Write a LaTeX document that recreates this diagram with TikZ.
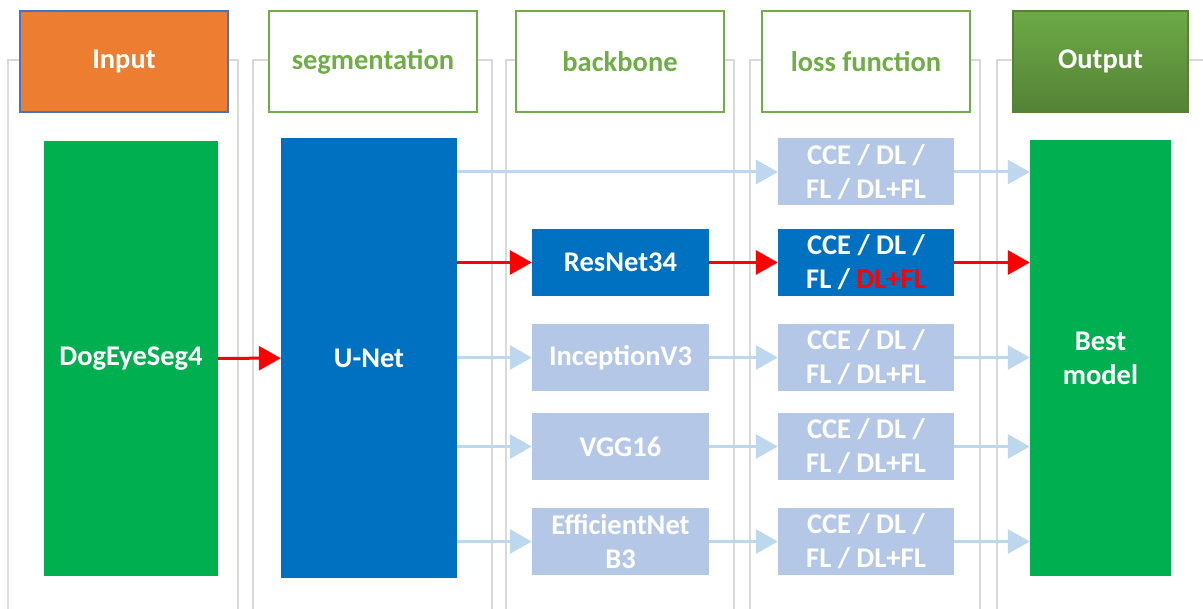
\documentclass[tikz,border=0pt]{standalone}
\usepackage{fontspec}
\setmainfont{Carlito}
\usetikzlibrary{arrows.meta}
\definecolor{frameg}{HTML}{D9D9D9}
\definecolor{orng}{HTML}{ED7D31}
\definecolor{bordblue}{HTML}{4472C4}
\definecolor{hdgreen}{HTML}{70AD47}
\definecolor{outgA}{HTML}{6DAA47}
\definecolor{outgB}{HTML}{548235}
\definecolor{boxgreen}{HTML}{00B050}
\definecolor{boxblue}{HTML}{0070C0}
\definecolor{paleblue}{HTML}{B4C7E7}
\definecolor{arrblue}{HTML}{BDD7EE}
\tikzset{frame/.style={draw=frameg,line width=2.5pt},
head/.style={rectangle, minimum width=208pt, minimum height=101pt, inner sep=0pt, text centered, line width=1.5pt, font=\bfseries\fontsize{28.5}{32}\selectfont},
greenhead/.style={head, draw=hdgreen, fill=white, text=hdgreen},
box/.style={rectangle, inner sep=0pt, align=center, text=white, font=\bfseries\fontsize{28.5}{34}\selectfont},
smallbox/.style={box, minimum width=177pt, minimum height=67pt},
dark/.style={fill=boxblue},
pale/.style={fill=paleblue},
redarr/.style={-{Triangle[length=22pt,width=24pt]},line width=3pt,draw=red},
bluearr/.style={-{Triangle[length=22pt,width=24pt]},line width=3pt,draw=arrblue}}

\begin{document}
\begin{tikzpicture}[x=1pt, y=-1pt]
\useasboundingbox (0,0) rectangle (1203,609);

% column frames
\draw[frame] (8,615) |- (238,60) -- (238,615);
\draw[frame] (253,615) |- (492,60) -- (492,615);
\draw[frame] (506,615) |- (734,60) -- (734,615);
\draw[frame] (750,615) |- (980,60) -- (980,615);
\draw[frame] (997,615) |- (1212,60) -- (1212,615);

% headers
\node(input) at (124, 61.5) [head, fill=orng, draw=bordblue, text=white] {Input};
\node(seg) at (373, 61.5) [greenhead] {segmentation};
\node(bb) at (620, 61.5) [greenhead] {backbone};
\node(loss) at (866, 61.5) [greenhead] {loss function};
\node(output) at (1100.5, 61.5) [head, minimum width=175pt, top color=outgA, bottom color=outgB, draw=outgB, text=white] {Output};

% boxes
\node(dog) at (131, 358.5) [box, fill=boxgreen, minimum width=174pt, minimum height=435pt] {DogEyeSeg4};
\node(unet) at (369, 358) [box, dark, minimum width=176pt, minimum height=440pt] {U-Net};
\node(resnet) at (620.5, 262.5) [smallbox, dark] {ResNet34};
\node(incep) at (620.5, 357.5) [smallbox, pale] {InceptionV3};
\node(vgg) at (620.5, 446.5) [smallbox, pale] {VGG16};
\node(effnet) at (620.5, 541.5) [smallbox, pale] {EfficientNet\\B3};
\node(lossA) at (866, 172) [smallbox, pale, minimum width=176pt] {CCE / DL /\\FL / DL+FL};
\node(lossB) at (866, 262.5) [smallbox, dark, minimum width=176pt] {CCE / DL /\\FL / \textcolor{red}{DL+FL}};
\node(lossC) at (866, 357.5) [smallbox, pale, minimum width=176pt] {CCE / DL /\\FL / DL+FL};
\node(lossD) at (866, 446.5) [smallbox, pale, minimum width=176pt] {CCE / DL /\\FL / DL+FL};
\node(lossE) at (866, 541.5) [smallbox, pale, minimum width=176pt] {CCE / DL /\\FL / DL+FL};
\node(best) at (1100.5, 358) [box, fill=boxgreen, minimum width=141pt, minimum height=436pt] {Best\\model};

% connectors
\draw (dog) edge[redarr] (unet);
\draw (unet.east |- lossA.west) edge[bluearr] (lossA.west);
\draw (unet.east |- resnet.west) edge[redarr] (resnet.west);
\draw (unet.east |- incep.west) edge[bluearr] (incep.west);
\draw (unet.east |- vgg.west) edge[bluearr] (vgg.west);
\draw (unet.east |- effnet.west) edge[bluearr] (effnet.west);
\draw (resnet) edge[redarr] (lossB);
\draw (incep) edge[bluearr] (lossC);
\draw (vgg) edge[bluearr] (lossD);
\draw (effnet) edge[bluearr] (lossE);
\draw (lossA.east) edge[bluearr] (best.west |- lossA.east);
\draw (lossB.east) edge[redarr] (best.west |- lossB.east);
\draw (lossC.east) edge[bluearr] (best.west |- lossC.east);
\draw (lossD.east) edge[bluearr] (best.west |- lossD.east);
\draw (lossE.east) edge[bluearr] (best.west |- lossE.east);

\end{tikzpicture}
\end{document}
